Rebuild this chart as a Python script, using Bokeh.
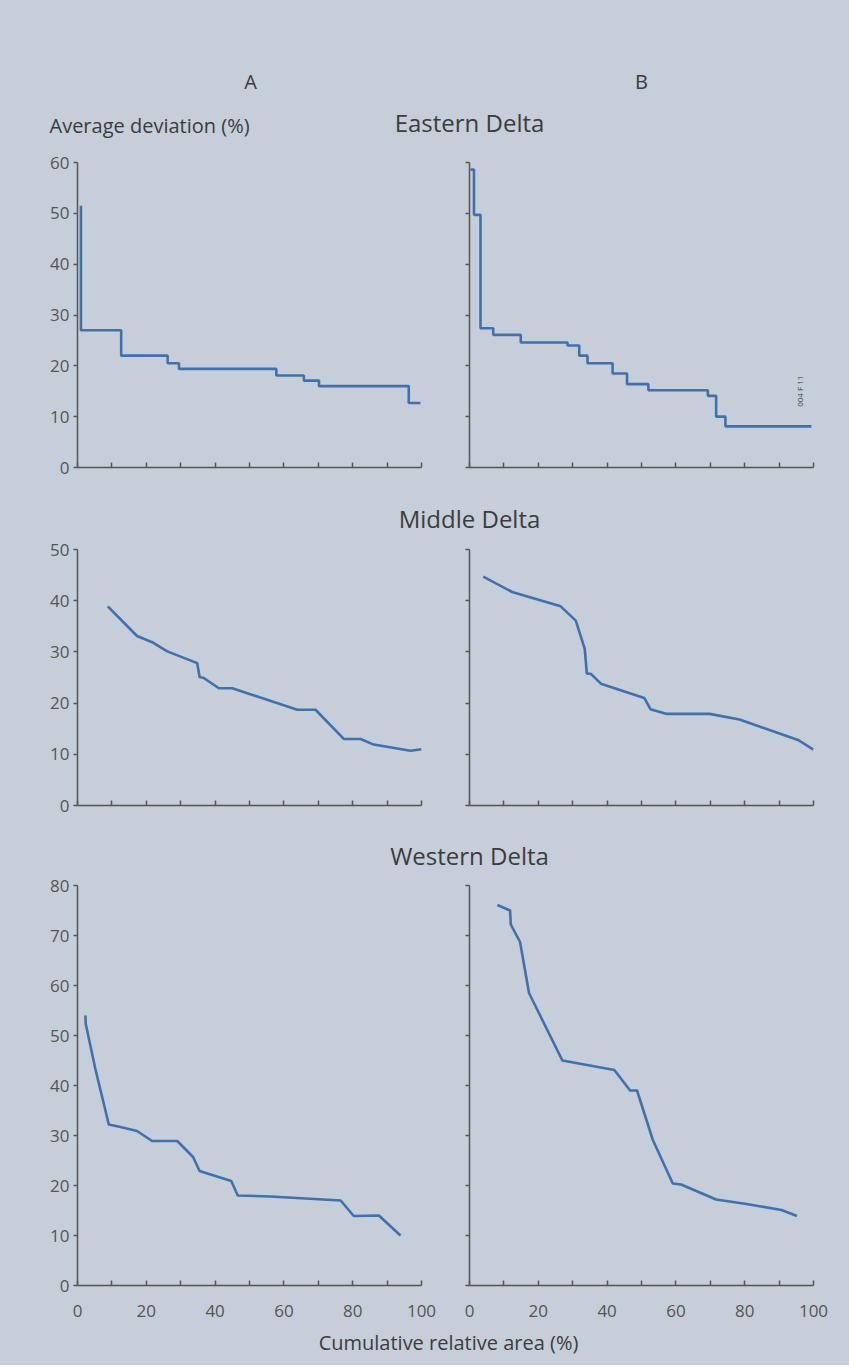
from math import pi
from bokeh.plotting import figure
from bokeh.layouts import column, row
from bokeh.models import Range1d, FixedTicker, Label
from bokeh.embed import file_html
from bokeh.resources import INLINE

# ---------------- data ----------------
# Eastern Delta (step curves)
east_a_area = [1.0, 1.0, 12.7, 26.2, 29.5, 57.8, 65.8, 70.2, 96.3, 99.7]
east_a_dev = [51.5, 27.0, 22.0, 20.5, 19.4, 18.1, 17.1, 16.0, 12.7, 12.7]
east_b_area = [0.3, 1.3, 3.2, 6.9, 14.9, 28.5, 31.9, 34.3, 41.6, 45.8, 52.0, 69.3, 71.7, 74.4, 99.4]
east_b_dev = [58.6, 49.7, 27.4, 26.1, 24.6, 24.0, 22.0, 20.5, 18.5, 16.4, 15.2, 14.1, 10.0, 8.1, 8.1]

# Middle Delta
mid_a_area = [8.8, 17.3, 21.7, 26.1, 34.8, 35.5, 36.7, 41.1, 45.0, 63.9, 69.2, 77.4, 82.3, 86.1, 96.8, 100.0]
mid_a_dev = [38.9, 33.1, 31.9, 30.1, 27.8, 25.1, 24.9, 22.9, 22.9, 18.7, 18.7, 13.0, 13.0, 11.9, 10.7, 11.0]
mid_b_area = [4.0, 12.4, 26.5, 30.9, 33.5, 34.1, 35.3, 38.2, 50.8, 52.6, 57.1, 69.8, 78.5, 95.5, 100.0]
mid_b_dev = [44.7, 41.7, 38.9, 36.1, 30.6, 25.8, 25.7, 23.8, 21.0, 18.8, 17.9, 17.9, 16.8, 12.8, 10.9]

# Western Delta
west_a_area = [2.3, 2.4, 5.2, 9.1, 12.5, 17.3, 21.7, 29.0, 33.6, 35.5, 39.6, 44.7, 46.6, 56.1, 76.5, 80.3, 87.6, 93.9]
west_a_dev = [54.0, 52.3, 43.3, 32.2, 31.7, 30.9, 28.9, 28.9, 25.7, 22.9, 22.0, 20.9, 18.0, 17.8, 17.0, 13.9, 14.0, 10.0]
west_b_area = [8.1, 11.8, 12.0, 14.7, 17.3, 27.0, 42.1, 46.7, 48.7, 53.3, 59.1, 61.5, 71.7, 80.5, 90.7, 95.2]
west_b_dev = [76.1, 75.0, 72.2, 68.7, 58.5, 45.0, 43.1, 39.0, 39.0, 29.1, 20.4, 20.2, 17.2, 16.3, 15.1, 13.9]

x_ticks = [0, 20, 40, 60, 80, 100]
x_minor = [10, 30, 50, 70, 90]

# ---------------- styling ----------------
BG = "#c5ced9"
LINE = "#3f72ad"
AXIS = "#565656"
TXT = "#3c3c3c"
FONT = "Open Sans"
PAGE_W = 849


def base_fig(**kw):
    p = figure(output_backend="svg", toolbar_location=None, title=None, **kw)
    p.background_fill_color = BG
    p.border_fill_color = BG
    p.outline_line_color = None
    p.grid.visible = False
    return p


def header(y_top, y_bot, labels):
    p = base_fig(frame_width=PAGE_W, frame_height=y_bot - y_top,
                 x_range=Range1d(0, PAGE_W), y_range=Range1d(y_bot, y_top),
                 x_axis_location=None, y_axis_location=None,
                 min_border=0)
    for (x, y, txt, size, align) in labels:
        p.add_layout(Label(x=x, y=y, text=txt, text_font=FONT, text_font_size=size,
                           text_color=TXT, text_align=align, text_baseline="middle"))
    return p


def panel(xs, ys, ymax, fh, left, right, top, bottom, ylab, xlab, step=False):
    p = base_fig(frame_width=344, frame_height=fh,
                 x_range=Range1d(0, 100), y_range=Range1d(0, ymax),
                 min_border_left=left, min_border_right=right,
                 min_border_top=top, min_border_bottom=bottom)
    if step:
        p.step(xs, ys, mode="after", line_color=LINE, line_width=2.6)
    else:
        p.line(xs, ys, line_color=LINE, line_width=2.6, line_join="round")

    xa = p.xaxis[0]
    xa.ticker = FixedTicker(ticks=x_ticks, minor_ticks=x_minor)
    xa.major_tick_in = 5
    xa.major_tick_out = 0
    xa.minor_tick_in = 5
    xa.minor_tick_out = 0
    xa.minor_tick_line_color = AXIS
    xa.minor_tick_line_width = 1.5

    ya = p.yaxis[0]
    ya.ticker = FixedTicker(ticks=list(range(0, ymax + 1, 10)), minor_ticks=[])
    ya.major_tick_in = 0
    ya.major_tick_out = 4
    ya.minor_tick_line_color = None

    for ax in (xa, ya):
        ax.axis_line_color = AXIS
        ax.axis_line_width = 1.5
        ax.major_tick_line_color = AXIS
        ax.major_tick_line_width = 1.5
        ax.major_label_text_font = FONT
        ax.major_label_text_font_size = "17px"
        ax.major_label_text_color = "#555555"

    ya.major_label_standoff = 4
    xa.major_label_standoff = 19
    if not ylab:
        ya.major_label_overrides = {t: "" for t in range(0, ymax + 1, 10)}
    if not xlab:
        xa.major_label_overrides = {t: "" for t in x_ticks}
    return p


# header rows (screen coordinates of the page)
h1 = header(0, 150, [
    (250, 81, "A", "20px", "center"),
    (641, 81, "B", "20px", "center"),
    (49, 125, "Average deviation (%)", "20px", "left"),
    (469, 122, "Eastern Delta", "24px", "center"),
])
a1 = panel(east_a_area, east_a_dev, 60, 305, 77, 24, 12, 28, True, False, step=True)
b1 = panel(east_b_area, east_b_dev, 60, 305, 24, 36, 12, 28, False, False, step=True)
b1.add_layout(Label(x=96, y=15, text="004 F 11", angle=pi / 2, text_font=FONT,
                    text_font_size="8px", text_color=TXT,
                    text_align="center", text_baseline="middle"))

h2 = header(495, 537, [(469, 518, "Middle Delta", "24px", "center")])
a2 = panel(mid_a_area, mid_a_dev, 50, 256, 77, 24, 12, 27, True, False)
b2 = panel(mid_b_area, mid_b_dev, 50, 256, 24, 36, 12, 27, False, False)

h3 = header(832, 874, [(469, 855, "Western Delta", "24px", "center")])
a3 = panel(west_a_area, west_a_dev, 80, 400, 77, 24, 11, 40, True, True)
b3 = panel(west_b_area, west_b_dev, 80, 400, 24, 36, 11, 40, False, True)

foot = header(1325, 1365, [(448, 1342, "Cumulative relative area (%)", "20px", "center")])

bgstyle = {"background-color": BG}
layout = column(h1, row(a1, b1, styles=bgstyle), h2, row(a2, b2, styles=bgstyle),
                h3, row(a3, b3, styles=bgstyle), foot, styles=bgstyle)

open("out.html", "w").write(file_html(layout, INLINE))
